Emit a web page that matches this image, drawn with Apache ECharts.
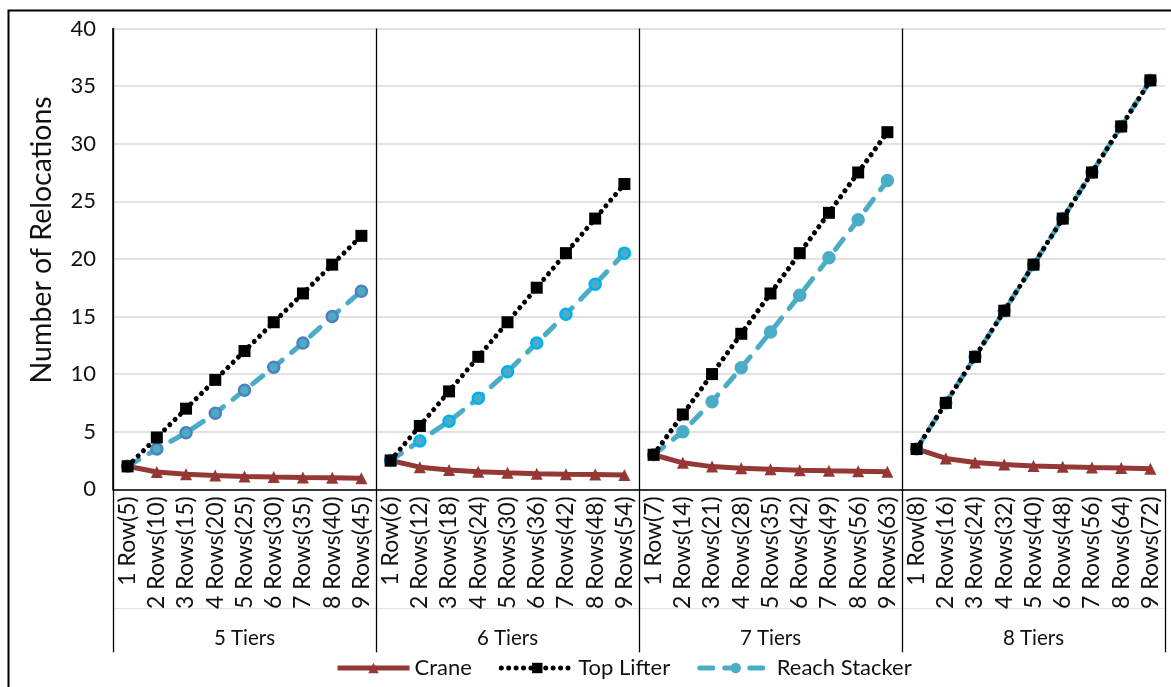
<!DOCTYPE html>
<html>
<head>
<meta charset="utf-8">
<style>
  html, body { margin: 0; padding: 0; background: #fff; }
  #chart { width: 1171px; height: 687px; }
</style>
<script src="https://cdn.jsdelivr.net/npm/echarts@6/dist/echarts.min.js"></script>
</head>
<body>
<div id="chart"></div>
<script>
// Stack configurations: rows (and container count) inside each tier group
const rowLabels = [
  '1 Row(5)', '2 Rows(10)', '3 Rows(15)', '4 Rows(20)', '5 Rows(25)', '6 Rows(30)', '7 Rows(35)', '8 Rows(40)', '9 Rows(45)',
  '1 Row(6)', '2 Rows(12)', '3 Rows(18)', '4 Rows(24)', '5 Rows(30)', '6 Rows(36)', '7 Rows(42)', '8 Rows(48)', '9 Rows(54)',
  '1 Row(7)', '2 Rows(14)', '3 Rows(21)', '4 Rows(28)', '5 Rows(35)', '6 Rows(42)', '7 Rows(49)', '8 Rows(56)', '9 Rows(63)',
  '1 Row(8)', '2 Rows(16)', '3 Rows(24)', '4 Rows(32)', '5 Rows(40)', '6 Rows(48)', '7 Rows(56)', '8 Rows(64)', '9 Rows(72)'
];
const tierLabels = ['5 Tiers', '6 Tiers', '7 Tiers', '8 Tiers'];
const yTicks = [0, 5, 10, 15, 20, 25, 30, 35, 40];

// Average number of relocations, one list per tier group
const crane5 = [2.0, 1.5, 1.3, 1.2, 1.12, 1.07, 1.03, 1.0, 0.97];
const crane6 = [2.5, 1.92, 1.67, 1.52, 1.43, 1.36, 1.31, 1.28, 1.24];
const crane7 = [3.0, 2.3, 1.97, 1.82, 1.73, 1.66, 1.61, 1.57, 1.53];
const crane8 = [3.5, 2.68, 2.32, 2.16, 2.03, 1.95, 1.89, 1.84, 1.79];

const topLifter5 = [2, 4.5, 7, 9.5, 12, 14.5, 17, 19.5, 22];
const topLifter6 = [2.5, 5.5, 8.5, 11.5, 14.5, 17.5, 20.5, 23.5, 26.5];
const topLifter7 = [3, 6.5, 10, 13.5, 17, 20.5, 24, 27.5, 31];
const topLifter8 = [3.5, 7.5, 11.5, 15.5, 19.5, 23.5, 27.5, 31.5, 35.5];

const reachStacker5 = [2, 3.5, 4.9, 6.6, 8.6, 10.6, 12.7, 15.0, 17.2];
const reachStacker6 = [2.5, 4.2, 5.9, 7.9, 10.2, 12.7, 15.2, 17.8, 20.5];
const reachStacker7 = [3, 5.0, 7.6, 10.55, 13.65, 16.85, 20.1, 23.4, 26.8];
const reachStacker8 = [3.5, 7.5, 11.5, 15.5, 19.5, 23.5, 27.5, 31.5, 35.5];

const craneGroups = [crane5, crane6, crane7, crane8];
const topLifterGroups = [topLifter5, topLifter6, topLifter7, topLifter8];
const reachStackerGroups = [reachStacker5, reachStacker6, reachStacker7, reachStacker8];

const FONT = 'Lato, "Open Sans", sans-serif';
const TEXT = '#111';

// Place one group's values on its own stretch of the shared category axis,
// leaving the other groups empty so each group is drawn as a separate line
function spread(values, groupIndex) {
  const out = new Array(rowLabels.length).fill(null);
  values.forEach(function (v, i) { out[groupIndex * values.length + i] = v; });
  return out;
}

const reachBorders = ['#4F81BD', '#00B0F0', '#4BACC6', '#4BACC6'];

const series = [];
craneGroups.forEach(function (vals, g) {
  series.push({
    name: 'Crane', type: 'line', data: spread(vals, g), z: 3,
    symbol: 'triangle', symbolSize: 12,
    itemStyle: { color: '#953735' },
    lineStyle: { color: '#953735', width: 5 }
  });
});
reachStackerGroups.forEach(function (vals, g) {
  series.push({
    name: 'Reach Stacker', type: 'line', data: spread(vals, g), z: 4,
    symbol: 'circle', symbolSize: 11,
    itemStyle: { color: '#4BACC6', borderColor: reachBorders[g], borderWidth: 2.5 },
    lineStyle: { color: '#4BACC6', width: 5, type: [13, 12], cap: 'round' }
  });
});
topLifterGroups.forEach(function (vals, g) {
  series.push({
    name: 'Top Lifter', type: 'line', data: spread(vals, g), z: 5,
    symbol: 'rect', symbolSize: 12,
    itemStyle: { color: '#000' },
    lineStyle: { color: '#000', width: 5, type: [0.01, 7.4], cap: 'round' }
  });
});

const chart = echarts.init(document.getElementById('chart'), null, { renderer: 'canvas' });
chart.setOption({
  backgroundColor: '#fff',
  animation: false,
  textStyle: { fontFamily: FONT, color: TEXT },
  grid: { left: 113, right: 6, top: 28.5, bottom: 197.7, containLabel: false },
  legend: {
    left: 330, top: 652,
    data: ['Crane', 'Top Lifter', 'Reach Stacker'],
    itemWidth: 72, itemHeight: 13, itemGap: 27,
    lineStyle: { width: 5 },
    itemStyle: { borderWidth: 0 },
    textStyle: { fontFamily: FONT, fontSize: 22, color: TEXT }
  },
  xAxis: [
    {
      type: 'category', data: rowLabels, position: 'bottom',
      axisLine: { show: true, lineStyle: { color: '#000', width: 1.5 } },
      axisTick: { show: false },
      axisLabel: { interval: 0, rotate: 90, margin: 7, fontSize: 23, color: TEXT, fontFamily: FONT },
      splitLine: { show: false }
    },
    {
      type: 'category', data: tierLabels, position: 'bottom',
      axisLine: { show: false },
      axisTick: { show: true, length: 163, interval: 0, lineStyle: { color: '#000', width: 1.3 } },
      axisLabel: { interval: 0, margin: 139, fontSize: 20.5, color: TEXT, fontFamily: FONT },
      splitLine: { show: true, interval: 0, showMaxLine: false, lineStyle: { color: '#000', width: 1.3 } }
    },
    {
      type: 'category', data: tierLabels, position: 'bottom', offset: 119,
      axisLine: { show: true, lineStyle: { color: '#e2e2e2', width: 1 } },
      axisTick: { show: false },
      axisLabel: { show: false },
      splitLine: { show: false }
    }
  ],
  yAxis: {
    type: 'value', min: yTicks[0], max: yTicks[yTicks.length - 1], interval: yTicks[1] - yTicks[0],
    name: 'Number of Relocations', nameLocation: 'middle', nameGap: 57, nameRotate: 90,
    nameTextStyle: { fontSize: 28.5, color: TEXT, fontFamily: FONT, padding: [0, 0, 0, 38] },
    axisLine: { show: true, lineStyle: { color: '#000', width: 1.5 } },
    axisTick: { show: false },
    axisLabel: { margin: 17, fontSize: 22, color: TEXT, fontFamily: FONT },
    splitLine: { show: true, lineStyle: { color: '#d9d9d9', width: 1.5 } }
  },
  graphic: [
    {
      type: 'rect', left: 6, top: 8, silent: true,
      shape: { width: 1185, height: 700 },
      style: { fill: 'none', stroke: '#000', lineWidth: 2 }
    }
  ],
  series: series
});
</script>
</body>
</html>
